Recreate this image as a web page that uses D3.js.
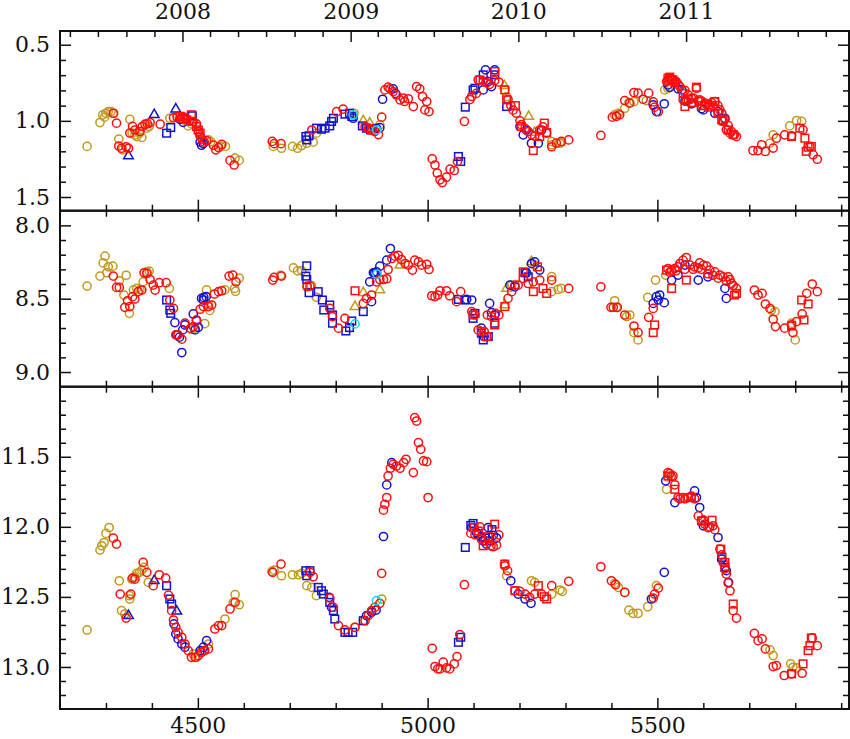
<!DOCTYPE html>
<html><head><meta charset="utf-8">
<script src="https://cdn.jsdelivr.net/npm/d3@7"></script>
<style>body{margin:0;background:#fff}</style>
</head><body>
<svg id="c" width="850" height="739"></svg>
<script>
// ---------------- DATA (JD-2450000, value) ----------------
const yearLabels = [2008, 2009, 2010, 2011];
const xMajorTicks = [4500, 5000, 5500];
const topMajor = [0.5, 1.0, 1.5];
const midMajor = [8.0, 8.5, 9.0];
const botMajor = [11.5, 12.0, 12.5, 13.0];

// ---- top panel ----
const topRedCirc = [[4316,0.95],[4323,1.015],[4328,1.165],[4334,1.18],[4344,1.17],[4349,1.18],[4352,1.08],[4358,1.036],[4363,1.06],[4374,1.07],[4379,1.037],[4385,1.022],[4390,1.02],[4396,1.011],[4418,1.022],[4447,0.98],[4455,0.975],[4462,0.985],[4470,0.975],[4476,0.99],[4490,1.005],[4497,1.02],[4501,1.07],[4505,1.1],[4509,1.12],[4514,1.14],[4519,1.13],[4534,1.16],[4539,1.19],[4545,1.175],[4552,1.155],[4570,1.26],[4579,1.29],[4662,1.135],[4666,1.15],[4681,1.15],[4748,1.06],[4802,0.94],[4816,0.923],[4864,1.04],[4871,1.05],[4878,1.06],[4885,1.07],[4893,1.09],[4900,0.976],[4907,0.797],[4914,0.779],[4918,0.79],[4925,0.808],[4932,0.83],[4940,0.862],[4947,0.851],[4950,0.873],[4958,0.855],[4969,0.906],[4976,0.775],[4983,0.79],[4989,0.84],[4994,0.928],
[4998,0.873],[5003,0.939],[5010,1.25],[5016,1.29],[5021,1.343],[5027,1.387],[5032,1.405],[5041,1.37],[5049,1.317],[5058,1.326],[5065,1.267],[5080,1.004],[5092,0.86],[5096,0.84],[5106,0.82],[5110,0.73],[5121,0.74],[5128,0.75],[5135,0.76],[5146,0.735],[5155,0.745],[5175,0.86],[5181,0.9],[5186,0.93],[5193,0.95],[5201,1.0],[5204,1.025],[5212,1.05],[5219,1.07],[5226,1.09],[5233,1.1],[5244,1.06],[5251,1.04],[5259,1.08],[5270,1.17],[5280,1.146],[5291,1.135],[5307,1.125],[5377,1.096],[5402,0.976],[5411,0.97],[5418,0.96],[5429,0.867],[5440,0.884],[5449,0.814],[5458,0.818],[5469,0.858],[5481,0.818],[5491,0.876],[5494,0.91],[5502,0.94],[5520,0.742],[5523,0.735],[5527,0.72],[5530,0.725],[5534,0.731],[5538,0.745],[5541,0.742],[5545,0.76],[5549,0.775],[5556,0.862],[5560,0.8],[5563,0.87],[5567,0.83],[5574,0.851],[5578,0.85],[5585,0.786],[5589,0.87],[5592,0.862],[5596,0.87],[5603,0.884],[5607,0.89],[5614,0.895],[5618,0.88],[5621,0.9],[5625,0.873],[5632,0.9],[5636,0.928],[5640,0.95],[5643,1.004],[5647,0.99],[5650,1.059],[5654,1.03],[5658,1.081],[5661,1.07],[5665,1.092],[5668,1.09],[5672,1.103],[5708,1.195],[5719,1.195],[5727,1.157],[5735,1.201],[5752,1.179],[5759,1.114],[5777,1.092],[5792,1.098],[5817,1.059],[5832,1.168],[5839,1.223],[5848,1.252]];
const topRedSq = [[4461,0.97],[4467,0.983],[4476,0.993],[4486,0.96],[4488,1.004],[4497,1.037],[4501,1.06],[4505,1.08],[4873,1.05],[4878,1.06],[5114,0.731],[5146,0.676],[5168,0.797],[5172,0.862],[5191,0.90],[5204,1.037],[5230,1.195],[5254,1.015],[5244,1.103],[5259,1.077],[5523,0.72],[5527,0.713],[5530,0.73],[5534,0.731],[5538,0.75],[5556,0.82],[5560,0.906],[5567,0.86],[5578,0.88],[5585,0.779],[5596,0.9],[5603,0.9],[5614,0.91],[5625,0.873],[5632,0.95],[5640,0.993],[5643,1.0],[5654,1.06],[5665,1.09],[5792,1.103],[5810,1.048],[5821,1.114],[5828,1.173],[5835,1.168],[5824,1.2]];
const topBlueCirc = [[4505,1.14],[4508,1.16],[4512,1.15],[4461,0.99],[4468,1.01],[4838,0.983],[4889,1.05],[4896,1.045],[4902,0.858],[4925,0.79],[4930,0.82],[5126,0.665],[5146,0.665],[5121,0.797],[5139,0.775],[5132,0.742],[5201,1.037],[5208,1.092],[5215,1.06],[5226,1.147],[5241,1.147],[5248,1.06],[5491,0.895],[5498,0.939],[5515,0.888],[5527,0.78],[5545,0.79],[5553,0.797],[5560,0.87],[5574,0.888],[5596,0.92],[5600,0.928],[5625,0.95],[5632,0.939],[5647,0.983],[5523,0.764]];
const topBlueSq = [[4432,1.081],[4441,1.044],[4488,0.967],[4735,1.103],[4737,1.125],[4742,1.098],[4758,1.048],[4769,1.055],[4777,1.048],[4787,1.033],[4791,1.004],[4795,0.983],[4820,0.956],[4830,0.95],[4835,0.972],[4858,1.033],[4867,1.048],[4876,1.059],[5067,1.234],[5072,1.267],[5082,0.91],[5099,0.797],[5103,0.786],[5121,0.698],[5146,0.698],[5172,0.906]];
const topBlueTri = [[4349,1.23],[4405,0.96],[4452,0.923]];
const topOliveCirc = [[4259,1.168],[4287,1.011],[4293,0.961],[4297,0.976],[4300,0.95],[4305,0.939],[4311,0.939],[4317,0.95],[4328,1.12],[4336,1.19],[4352,0.99],[4357,1.081],[4363,1.092],[4367,1.103],[4373,1.081],[4378,1.109],[4389,1.048],[4394,1.037],[4439,0.983],[4479,1.033],[4486,1.02],[4523,1.125],[4528,1.136],[4550,1.168],[4560,1.168],[4581,1.245],[4590,1.26],[4664,1.168],[4682,1.18],[4706,1.168],[4717,1.18],[4726,1.162],[4737,1.147],[4751,1.14],[4758,1.081],[4840,0.95],[4896,1.026],[5407,0.961],[5415,0.95],[5429,0.917],[5438,0.88],[5449,0.873],[5476,0.867],[5516,0.797],[5523,0.786],[5270,1.136],[5270,1.157],[5288,1.147],[5291,1.142],[5745,1.147],[5752,1.092],[5788,1.033],[5803,0.998],[5814,1.004],[5168,0.797],[5172,0.84]];
const topOliveTri = [[4860,1.0],[4874,1.015],[5167,0.77],[5220,0.972],[5233,1.077]];
const topCyan = [[4889,1.06],[4838,0.96]];

// ---- middle panel ----
const midRedCirc = [[4316,8.346],[4323,8.423],[4329,8.423],[4341,8.559],[4347,8.514],[4352,8.554],[4358,8.486],[4363,8.502],[4370,8.452],[4378,8.441],[4383,8.323],[4389,8.328],[4396,8.369],[4403,8.407],[4407,8.441],[4416,8.391],[4431,8.391],[4439,8.509],[4447,8.566],[4452,8.747],[4457,8.747],[4465,8.776],[4472,8.667],[4484,8.701],[4490,8.69],[4497,8.645],[4505,8.572],[4512,8.554],[4523,8.554],[4530,8.543],[4536,8.468],[4545,8.452],[4552,8.446],[4568,8.346],[4576,8.339],[4583,8.385],[4663,8.373],[4666,8.355],[4682,8.346],[4738,8.414],[4744,8.414],[4787,8.566],[4793,8.622],[4806,8.701],[4820,8.634],[4860,8.532],[4867,8.498],[4878,8.475],[4889,8.385],[4896,8.369],[4904,8.369],[4911,8.364],[4914,8.301],[4922,8.226],[4929,8.21],[4936,8.204],[4943,8.233],[4951,8.26],[4958,8.271],[4967,8.305],[4972,8.237],[4980,8.249],[4987,8.271],
[4998,8.265],[5003,8.301],[5009,8.48],[5016,8.486],[5022,8.475],[5027,8.446],[5041,8.446],[5048,8.48],[5063,8.52],[5072,8.452],[5096,8.588],[5103,8.611],[5110,8.713],[5123,8.724],[5130,8.611],[5139,8.622],[5148,8.6],[5155,8.611],[5175,8.498],[5183,8.452],[5190,8.407],[5197,8.407],[5208,8.362],[5219,8.396],[5230,8.385],[5244,8.373],[5270,8.373],[5307,8.43],[5377,8.419],[5399,8.559],[5404,8.559],[5413,8.559],[5429,8.611],[5449,8.686],[5458,8.731],[5481,8.627],[5491,8.566],[5523,8.294],[5527,8.32],[5531,8.305],[5538,8.294],[5541,8.31],[5545,8.283],[5549,8.26],[5556,8.237],[5560,8.3],[5563,8.219],[5571,8.271],[5578,8.3],[5581,8.283],[5589,8.29],[5592,8.256],[5596,8.3],[5600,8.271],[5607,8.278],[5610,8.33],[5614,8.305],[5621,8.34],[5625,8.317],[5632,8.36],[5636,8.339],[5643,8.351],[5650,8.38],[5654,8.351],[5658,8.37],[5661,8.396],[5665,8.41],[5672,8.43],[5711,8.441],[5719,8.475],[5728,8.464],[5735,8.536],[5745,8.566],[5752,8.64],[5757,8.69],[5777,8.701],[5792,8.679],[5795,8.731],[5803,8.656],[5815,8.604],[5825,8.464],[5837,8.4],[5848,8.452]];
const midRedSq = [[4842,8.446],[5099,8.611],[5117,8.724],[5128,8.758],[5146,8.679],[5168,8.554],[5208,8.317],[5230,8.452],[5239,8.283],[5251,8.43],[5259,8.464],[5494,8.679],[5491,8.731],[5520,8.305],[5531,8.43],[5563,8.373],[5668,8.475],[5672,8.464],[5814,8.509],[5828,8.536],[5819,8.645],[5792,8.686]];
const midBlueCirc = [[4450,8.663],[4454,8.747],[4460,8.762],[4465,8.867],[4467,8.713],[4472,8.679],[4490,8.604],[4494,8.713],[4497,8.649],[4501,8.695],[4508,8.498],[4513,8.491],[4512,8.509],[4518,8.486],[4878,8.52],[4874,8.385],[4882,8.323],[4885,8.323],[4889,8.317],[4896,8.278],[4911,8.237],[4919,8.158],[5085,8.505],[5096,8.509],[5117,8.701],[5123,8.758],[5135,8.532],[5139,8.595],[5146,8.611],[5179,8.407],[5190,8.419],[5215,8.323],[5226,8.26],[5233,8.249],[5244,8.305],[5491,8.532],[5498,8.486],[5505,8.475],[5515,8.527],[5502,8.509],[5531,8.373],[5545,8.339],[5560,8.271],[5589,8.373],[5610,8.351],[5647,8.43],[5650,8.498]];
const midBlueSq = [[4432,8.509],[4439,8.577],[4441,8.6],[4737,8.276],[4735,8.346],[4737,8.369],[4742,8.459],[4762,8.452],[4771,8.509],[4774,8.577],[4787,8.543],[4793,8.611],[4793,8.667],[4822,8.72],[4830,8.697],[4835,8.652],[4860,8.588],[5067,8.505],[5081,8.509],[5099,8.634],[5103,8.6],[5117,8.735],[5121,8.781],[5132,8.758],[5146,8.667],[5212,8.323],[5219,8.351]];
const midOliveCirc = [[4259,8.414],[4287,8.346],[4294,8.256],[4298,8.21],[4302,8.323],[4305,8.283],[4315,8.278],[4329,8.378],[4339,8.475],[4344,8.34],[4351,8.6],[4360,8.44],[4367,8.43],[4374,8.44],[4381,8.385],[4389,8.317],[4394,8.312],[4438,8.43],[4519,8.44],[4523,8.54],[4515,8.67],[4526,8.58],[4486,8.71],[4494,8.70],[4559,8.44],[4580,8.43],[4582,8.45],[4590,8.36],[4680,8.34],[4708,8.29],[4717,8.31],[4726,8.31],[4737,8.42],[4747,8.41],[4758,8.49],[5183,8.407],[5233,8.27],[5270,8.35],[5270,8.452],[5284,8.437],[5291,8.43],[5407,8.514],[5411,8.559],[5433,8.622],[5440,8.611],[5449,8.731],[5458,8.781],[5479,8.491],[5496,8.373],[5518,8.339],[5748,8.577],[5756,8.588],[5792,8.667],[5800,8.781]];
const midOliveTri = [[4842,8.554],[4860,8.459],[4896,8.441],[4940,8.271],[5168,8.543],[5172,8.43],[5226,8.249]];
const midCyan = [[4890,8.333],[4842,8.672]];

// ---- bottom panel ----
const botRedCirc = [[4316,12.081],[4323,12.123],[4331,12.48],[4344,12.651],[4354,12.48],[4358,12.366],[4363,12.373],[4381,12.254],[4389,12.325],[4403,12.42],[4416,12.342],[4430,12.366],[4436,12.487],[4443,12.598],[4447,12.665],[4452,12.717],[4457,12.753],[4465,12.788],[4472,12.836],[4479,12.883],[4486,12.931],[4494,12.931],[4501,12.919],[4508,12.895],[4515,12.883],[4523,12.871],[4537,12.729],[4545,12.705],[4552,12.705],[4570,12.586],[4581,12.539],[4663,12.325],[4681,12.266],[4744,12.325],[4751,12.356],[4787,12.508],[4795,12.575],[4806,12.705],[4820,12.736],[4842,12.717],[4864,12.67],[4871,12.634],[4878,12.598],[4885,12.575],[4896,12.546],[4900,12.332],[4904,11.881],[4907,11.839],[4911,11.791],[4914,11.637],[4919,11.582],[4925,11.554],[4932,11.566],[4940,11.582],[4948,11.542],[4953,11.518],[4969,11.613],[4972,11.221],[4976,11.245],[4980,11.399],[4985,11.447],[4991,11.53],
[4998,11.535],[5001,11.791],[5010,12.867],[5016,12.997],[5022,13.014],[5027,13.014],[5034,12.966],[5041,13.007],[5048,13.014],[5058,12.978],[5064,12.926],[5070,12.769],[5080,12.413],[5094,12.047],[5103,12.057],[5114,12.0],[5117,12.09],[5125,12.1],[5138,12.135],[5143,12.142],[5150,12.13],[5155,12.057],[5168,12.278],[5174,12.313],[5190,12.456],[5201,12.461],[5212,12.48],[5222,12.503],[5233,12.48],[5248,12.48],[5270,12.42],[5307,12.389],[5377,12.285],[5400,12.385],[5409,12.413],[5429,12.468],[5491,12.508],[5494,12.48],[5502,12.437],[5523,11.613],[5527,11.62],[5530,11.64],[5534,11.637],[5538,11.7],[5545,11.791],[5549,11.8],[5556,11.791],[5560,11.8],[5567,11.791],[5574,11.78],[5581,11.8],[5589,11.922],[5596,11.957],[5600,11.95],[5603,11.98],[5610,12.005],[5614,12.0],[5621,11.993],[5625,12.02],[5636,12.159],[5640,12.2],[5643,12.254],[5647,12.3],[5650,12.337],[5654,12.4],[5658,12.456],[5665,12.598],[5672,12.651],[5711,12.76],[5719,12.812],[5728,12.8],[5735,12.871],[5752,12.997],[5759,12.99],[5776,13.061],[5792,13.049],[5815,13.045],[5837,12.793],[5848,12.848]];
const botRedSq = [[5101,12.005],[5110,12.03],[5121,12.135],[5132,12.07],[5146,11.981],[5168,12.266],[5190,12.456],[5241,12.42],[5254,12.499],[5259,12.515],[5523,11.637],[5538,11.732],[5574,11.791],[5596,11.957],[5619,11.953],[5638,12.159],[5647,12.254],[5665,12.551],[5792,13.049],[5817,12.978],[5828,12.883],[5832,12.848],[5835,12.793]];
const botBlueCirc = [[4448,12.693],[4452,12.764],[4457,12.8],[4465,12.836],[4472,12.859],[4505,12.883],[4512,12.859],[4519,12.812],[4786,12.503],[4791,12.575],[4867,12.634],[4878,12.61],[4888,12.594],[4904,12.069],[4911,11.701],[4922,11.542],[5096,12.005],[5106,12.04],[5117,12.07],[5121,12.1],[5128,12.123],[5132,12.005],[5143,12.06],[5150,12.08],[5181,12.385],[5197,12.48],[5212,12.515],[5225,12.546],[5487,12.515],[5515,12.325],[5518,11.672],[5538,11.827],[5581,11.744],[5585,11.791],[5592,11.862],[5600,11.993],[5632,12.076],[5640,12.23],[5650,12.313],[5655,12.396]];
const botBlueSq = [[4432,12.42],[4439,12.515],[4443,12.551],[4735,12.313],[4737,12.349],[4744,12.313],[4762,12.432],[4769,12.456],[4773,12.48],[4787,12.539],[4795,12.598],[4798,12.658],[4820,12.753],[4827,12.753],[4837,12.753],[4860,12.67],[5067,12.824],[5072,12.788],[5082,12.147],[5094,11.99],[5099,11.976],[5110,12.05],[5125,12.08],[5135,12.1],[5140,12.02],[5640,12.218],[5647,12.29]];
const botBlueTri = [[4349,12.634],[4405,12.385],[4454,12.603]];
const botOliveCirc = [[4259,12.736],[4287,12.166],[4291,12.135],[4296,12.112],[4300,12.047],[4307,12.005],[4329,12.385],[4334,12.598],[4341,12.622],[4352,12.515],[4351,12.491],[4356,12.373],[4362,12.356],[4367,12.332],[4373,12.325],[4378,12.309],[4383,12.29],[4392,12.396],[4490,12.907],[4497,12.931],[4505,12.895],[4512,12.883],[4523,12.836],[4559,12.658],[4577,12.539],[4581,12.484],[4590,12.556],[4661,12.318],[4666,12.309],[4682,12.349],[4706,12.342],[4719,12.342],[4726,12.332],[4737,12.42],[4748,12.432],[4758,12.491],[4860,12.67],[4842,12.717],[4900,12.515],[5167,12.266],[5172,12.349],[5226,12.385],[5233,12.396],[5270,12.48],[5288,12.451],[5293,12.461],[5407,12.404],[5415,12.432],[5429,12.468],[5438,12.594],[5447,12.617],[5458,12.617],[5479,12.57],[5498,12.42],[5520,11.732],[5523,11.644],[5745,12.878],[5752,12.919],[5790,12.978],[5795,13.002],[5803,13.007]];
const botCyan = [[4889,12.527]];

// ---------------- STYLE ----------------
const RED = "#ff0d0d", BLUE = "#1212d0", OLIVE = "#bf9a1e", CYAN = "#10d8f0";
const FONT = "DejaVu Serif";

const svg = d3.select("#c");
const L = 60, R = 849;
const x = d3.scaleLinear().domain([4200, 5917]).range([L, R]);

const panels = [
  { y: d3.scaleLinear().domain([0.41, 1.59]).range([31, 210.7]), major: topMajor, lo: 0.5, hi: 1.5,
    series: [[topOliveCirc, "c", OLIVE], [topOliveTri, "t", OLIVE], [topBlueCirc, "c", BLUE], [topBlueSq, "s", BLUE], [topBlueTri, "t", BLUE], [topRedCirc, "c", RED], [topRedSq, "s", RED], [topCyan, "c", CYAN]] },
  { y: d3.scaleLinear().domain([7.9, 9.1]).range([210.7, 386.7]), major: midMajor, lo: 8.0, hi: 9.0,
    series: [[midOliveCirc, "c", OLIVE], [midOliveTri, "t", OLIVE], [midBlueCirc, "c", BLUE], [midBlueSq, "s", BLUE], [midRedCirc, "c", RED], [midRedSq, "s", RED], [midCyan, "c", CYAN]] },
  { y: d3.scaleLinear().domain([11.0, 13.3]).range([386.7, 709]), major: botMajor, lo: 11.1, hi: 13.2,
    series: [[botOliveCirc, "c", OLIVE], [botBlueCirc, "c", BLUE], [botBlueSq, "s", BLUE], [botBlueTri, "t", BLUE], [botRedCirc, "c", RED], [botRedSq, "s", RED], [botCyan, "c", CYAN]] }
];

const MAJ = 11, MIN = 6;
const xMinor = d3.range(4300, 5901, 100);

function styleAxis(g) {
  g.select(".domain").remove();
  g.selectAll(".tick line").attr("stroke", "#111").attr("stroke-width", 1.5);
  g.selectAll("text").attr("font-family", FONT).attr("font-size", 22).attr("fill", "#111");
}

const tri = d3.symbol().type(d3.symbolTriangle).size(40);
const SW = 1.5;

panels.forEach((p, i) => {
  const [y0, y1] = p.y.range();
  const g = svg.append("g");
  p.series.forEach(([data, sym, col]) => {
    const sel = g.selectAll(null).data(data);
    if (sym === "c") {
      sel.enter().append("circle").attr("cx", d => x(d[0])).attr("cy", d => p.y(d[1])).attr("r", 4.1)
        .attr("fill", "none").attr("stroke", col).attr("stroke-width", SW);
    } else if (sym === "s") {
      sel.enter().append("rect").attr("x", d => x(d[0]) - 3.8).attr("y", d => p.y(d[1]) - 3.8)
        .attr("width", 7.6).attr("height", 7.6).attr("fill", "none").attr("stroke", col).attr("stroke-width", SW);
    } else {
      sel.enter().append("path").attr("d", tri).attr("transform", d => `translate(${x(d[0])},${p.y(d[1])})`)
        .attr("fill", "none").attr("stroke", col).attr("stroke-width", SW);
    }
  });

  const yMinor = d3.range(Math.round(p.lo * 10), Math.round(p.hi * 10) + 1).map(v => v / 10)
    .filter(v => !p.major.some(m => Math.abs(m - v) < 1e-6));
  svg.append("g").attr("transform", `translate(${L},0)`)
    .call(d3.axisLeft(p.y).tickValues(p.major).tickSize(-MAJ).tickPadding(10).tickFormat(d3.format(".1f")))
    .call(styleAxis);
  svg.append("g").attr("transform", `translate(${L},0)`)
    .call(d3.axisLeft(p.y).tickValues(yMinor).tickSize(-MIN).tickFormat("")).call(styleAxis);
  svg.append("g").attr("transform", `translate(${R},0)`)
    .call(d3.axisRight(p.y).tickValues(p.major).tickSize(-MAJ).tickFormat("")).call(styleAxis);
  svg.append("g").attr("transform", `translate(${R},0)`)
    .call(d3.axisRight(p.y).tickValues(yMinor).tickSize(-MIN).tickFormat("")).call(styleAxis);

  const xmin = xMinor.filter(v => !xMajorTicks.includes(v));
  svg.append("g").attr("transform", `translate(0,${y1})`)
    .call(d3.axisBottom(x).tickValues(xMajorTicks).tickSize(-MAJ).tickPadding(8)
      .tickFormat(i === 2 ? d3.format("d") : ""))
    .call(styleAxis);
  svg.append("g").attr("transform", `translate(0,${y1})`)
    .call(d3.axisBottom(x).tickValues(xmin).tickSize(-MIN).tickFormat("")).call(styleAxis);
  if (i > 0) {
    svg.append("g").attr("transform", `translate(0,${y0})`)
      .call(d3.axisTop(x).tickValues(xMajorTicks).tickSize(-MAJ).tickFormat("")).call(styleAxis);
    svg.append("g").attr("transform", `translate(0,${y0})`)
      .call(d3.axisTop(x).tickValues(xmin).tickSize(-MIN).tickFormat("")).call(styleAxis);
  }
  svg.append("rect").attr("x", L).attr("y", y0).attr("width", R - L).attr("height", y1 - y0)
    .attr("fill", "none").attr("stroke", "#111").attr("stroke-width", 2);
});

// calendar axis on top
const jdToDate = j => new Date((j + 2450000 - 2440587.5) * 86400000);
const t = d3.scaleUtc().domain([jdToDate(4200), jdToDate(5917)]).range([L, R]);
const yearDates = yearLabels.map(yv => new Date(Date.UTC(yv, 0, 1)));
const monthDates = t.ticks(d3.utcMonth.every(2)).filter(d => d.getUTCMonth() !== 0);
svg.append("g").attr("transform", `translate(0,31)`)
  .call(d3.axisTop(t).tickValues(yearDates).tickSize(-MAJ).tickPadding(12).tickFormat(d3.utcFormat("%Y")))
  .call(styleAxis);
svg.append("g").attr("transform", `translate(0,31)`)
  .call(d3.axisTop(t).tickValues(monthDates).tickSize(-MIN).tickFormat("")).call(styleAxis);
</script>
</body></html>
